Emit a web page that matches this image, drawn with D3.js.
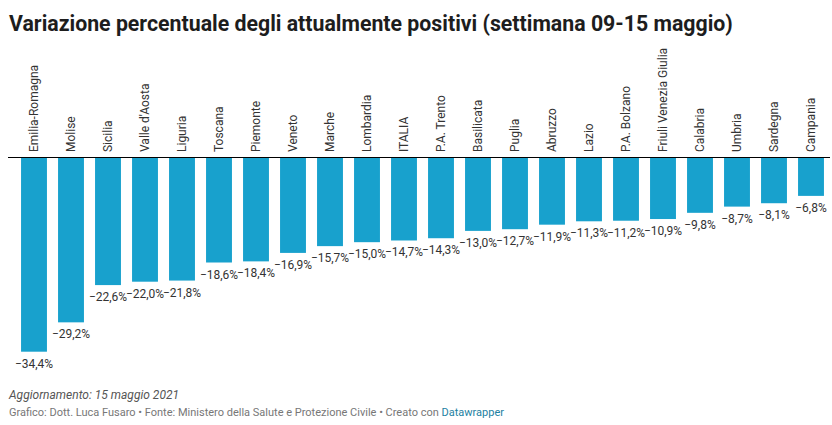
<!DOCTYPE html>
<html><head><meta charset="utf-8">
<script src="https://cdn.jsdelivr.net/npm/d3@7"></script>
<style>body{margin:0;background:#fff;font-family:Roboto,sans-serif;}</style>
</head><body><svg id="c" width="832" height="425"></svg>
<script>
const categories = ["Emilia-Romagna","Molise","Sicilia","Valle d'Aosta","Liguria","Toscana","Piemonte","Veneto","Marche","Lombardia","ITALIA","P.A. Trento","Basilicata","Puglia","Abruzzo","Lazio","P.A. Bolzano","Friuli Venezia Giulia","Calabria","Umbria","Sardegna","Campania"];
const values = [-34.4,-29.2,-22.6,-22.0,-21.8,-18.6,-18.4,-16.9,-15.7,-15.0,-14.7,-14.3,-13.0,-12.7,-11.9,-11.3,-11.2,-10.9,-9.8,-8.7,-8.1,-6.8];
const title = "Variazione percentuale degli attualmente positivi (settimana 09-15 maggio)";
const note = "Aggiornamento: 15 maggio 2021";
const credit = "Grafico: Dott. Luca Fusaro • Fonte: Ministero della Salute e Protezione Civile • Creato con ";

const svg = d3.select("#c");
const x = d3.scaleBand().domain(categories).range([15.5, 829.5]).paddingInner(0.3).paddingOuter(0.15);
const y = d3.scaleLinear().domain([0, -34.4]).range([157.5, 351.7]);
const fmt = v => "\u2212" + d3.format(".1f")(Math.abs(v)).replace(".", ",") + "%";

svg.append("text").attr("x", 9).attr("y", 31).attr("font-size", 21.3).attr("font-weight", 700)
  .attr("fill", "#1d1d1d").text(title);

svg.selectAll("rect.bar").data(categories).join("rect").attr("class","bar")
  .attr("x", d => x(d)).attr("width", x.bandwidth())
  .attr("y", y(0)).attr("height", (d,i) => y(values[i]) - y(0))
  .attr("fill", "#18a1cd");

svg.append("line").attr("x1", 8).attr("x2", 830).attr("y1", y(0)).attr("y2", y(0))
  .attr("stroke", "#000").attr("stroke-width", 1);

svg.selectAll("text.cat").data(categories).join("text").attr("class","cat")
  .attr("transform", d => `translate(${x(d)+x.bandwidth()/2+4},152) rotate(-90)`)
  .attr("font-size", 12).attr("fill", "#333").text(d => d);

svg.selectAll("text.val").data(categories).join("text").attr("class","val")
  .attr("x", d => x(d)+x.bandwidth()/2).attr("y", (d,i) => y(values[i]) + 16)
  .attr("text-anchor", "middle").attr("font-size", 12).attr("fill", "#333")
  .text((d,i) => fmt(values[i]));

svg.append("text").attr("x", 9).attr("y", 399).attr("font-size", 12).attr("font-style","italic")
  .attr("fill", "#555").text(note);
const cr = svg.append("text").attr("x", 9).attr("y", 416).attr("font-size", 11).attr("fill", "#777");
cr.append("tspan").text(credit);
cr.append("tspan").attr("fill", "#1d81a2").text("Datawrapper");
</script></body></html>
